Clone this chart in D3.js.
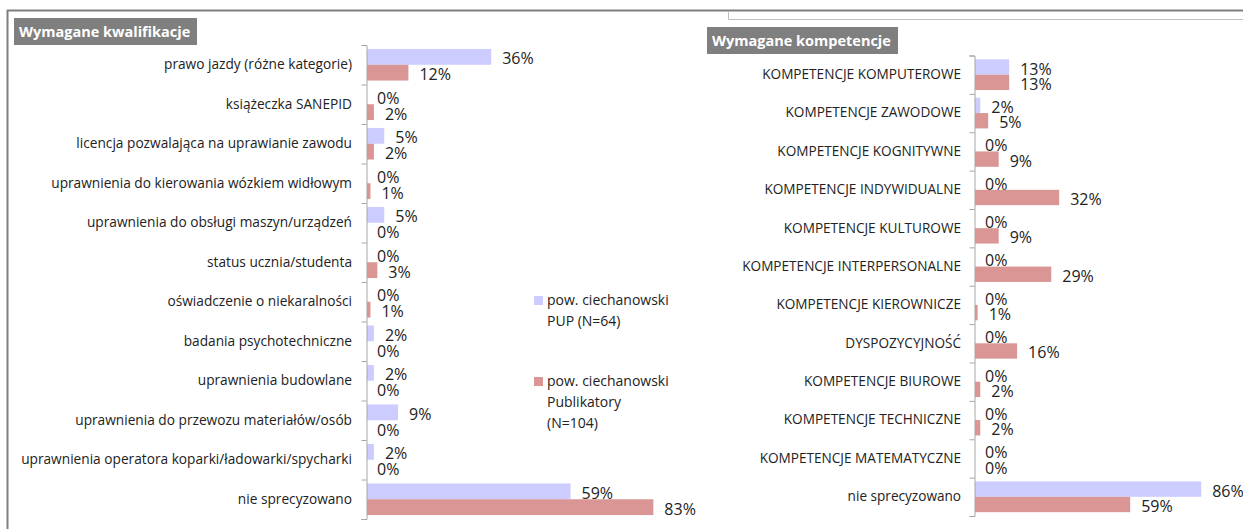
<!DOCTYPE html>
<html>
<head>
<meta charset="utf-8">
<script src="https://cdn.jsdelivr.net/npm/d3@7"></script>
<style>
  body { margin: 0; background: #fff; }
  svg { display: block; font-family: "Open Sans", "Noto Sans", sans-serif; }
  .cat text { fill: #222; }
</style>
</head>
<body>
<svg id="chart" width="1243" height="529"></svg>
<script>
const seriesNames = ["pow. ciechanowski PUP (N=64)", "pow. ciechanowski Publikatory (N=104)"];
const seriesColors = ["#ccccff", "#d99694"];

const qualCategories = [
    "prawo jazdy (różne kategorie)",
    "książeczka SANEPID",
    "licencja pozwalająca na uprawianie zawodu",
    "uprawnienia do kierowania wózkiem widłowym",
    "uprawnienia do obsługi maszyn/urządzeń",
    "status ucznia/studenta",
    "oświadczenie o niekaralności",
    "badania psychotechniczne",
    "uprawnienia budowlane",
    "uprawnienia do przewozu materiałów/osób",
    "uprawnienia operatora koparki/ładowarki/spycharki",
    "nie sprecyzowano"
];
const qualPup = [36, 0, 5, 0, 5, 0, 0, 2, 2, 9, 2, 59];
const qualPubl = [12, 2, 2, 1, 0, 3, 1, 0, 0, 0, 0, 83];

const compCategories = [
    "KOMPETENCJE KOMPUTEROWE",
    "KOMPETENCJE ZAWODOWE",
    "KOMPETENCJE KOGNITYWNE",
    "KOMPETENCJE INDYWIDUALNE",
    "KOMPETENCJE KULTUROWE",
    "KOMPETENCJE INTERPERSONALNE",
    "KOMPETENCJE KIEROWNICZE",
    "DYSPOZYCYJNOŚĆ",
    "KOMPETENCJE BIUROWE",
    "KOMPETENCJE TECHNICZNE",
    "KOMPETENCJE MATEMATYCZNE",
    "nie sprecyzowano"
];
const compPup = [13, 2, 0, 0, 0, 0, 0, 0, 0, 0, 0, 86];
const compPubl = [13, 5, 9, 32, 9, 29, 1, 16, 2, 2, 0, 59];

const svg = d3.select("#chart");

// frame lines
svg.append("line").attr("x1", 7).attr("x2", 1243).attr("y1", 10.5).attr("y2", 10.5)
    .attr("stroke", "#7f7f7f").attr("stroke-width", 2);
svg.append("line").attr("x1", 7.5).attr("x2", 7.5).attr("y1", 10).attr("y2", 529)
    .attr("stroke", "#7f7f7f").attr("stroke-width", 2);
svg.append("path").attr("d", "M728.5,11V19.5H1243")
    .attr("fill", "none").attr("stroke", "#bfbfbf").attr("stroke-width", 1);

function titleBox(x, y, w, h, text) {
    svg.append("rect").attr("x", x).attr("y", y).attr("width", w).attr("height", h)
        .attr("fill", "#7f7f7f");
    svg.append("text").attr("x", x + 5).attr("y", y + h / 2 + 5.5)
        .attr("fill", "#fff").attr("font-weight", "bold").attr("font-size", 14.5)
        .text(text);
}

function barChart(opts) {
    const n = opts.categories.length;
    const y = d3.scaleBand().domain(opts.categories).range([opts.y0, opts.y1])
        .paddingInner(0.2).paddingOuter(0.1);
    const ySub = d3.scaleBand().domain([0, 1]).range([0, y.bandwidth()]);
    const x = d3.scaleLinear().domain([0, 100]).range([opts.x0, opts.x0 + opts.pxPerPct * 100]);
    const idx = d3.scaleLinear().domain([0, n]).range([opts.y0, opts.y1]);

    const g = svg.append("g");

    // bars
    [opts.pup, opts.publ].forEach((vals, s) => {
        g.append("g").selectAll("rect")
            .data(vals)
            .join("rect")
            .attr("x", x(0))
            .attr("y", (d, i) => y(opts.categories[i]) + ySub(s))
            .attr("width", d => x(d) - x(0))
            .attr("height", ySub.bandwidth())
            .attr("fill", seriesColors[s]);

        g.append("g").selectAll("text")
            .data(vals)
            .join("text")
            .attr("x", d => x(d) + (d === 0 ? 10 : 11))
            .attr("y", (d, i) => y(opts.categories[i]) + ySub(s) + ySub.bandwidth() / 2 + 7.5)
            .attr("font-size", 16)
            .attr("fill", "#222")
            .text(d => d + "%");
    });

    // boundary axis with outward ticks
    g.append("g")
        .attr("transform", `translate(${opts.x0 - 0.5},0)`)
        .call(d3.axisLeft(idx).tickValues(d3.range(n + 1)).tickFormat("").tickSize(5).tickSizeOuter(5))
        .call(a => a.selectAll("line,path").attr("stroke", "#a6a6a6"));

    // category labels
    g.append("g").attr("class", "cat")
        .attr("transform", `translate(${opts.x0},0)`)
        .call(d3.axisLeft(y).tickSize(0).tickPadding(opts.labelPad))
        .call(a => a.select(".domain").remove())
        .call(a => a.selectAll("text")
            .attr("font-size", opts.labelSize)
            .attr("font-family", "'Open Sans', 'Noto Sans', sans-serif"));
}

titleBox(14, 18, 183, 27, "Wymagane kwalifikacje");
titleBox(707, 27, 191, 27, "Wymagane kompetencje");

barChart({
    categories: qualCategories, pup: qualPup, publ: qualPubl,
    x0: 367, y0: 45, y1: 519, pxPerPct: 3.45, labelPad: 15, labelSize: 13.7
});

barChart({
    categories: compCategories, pup: compPup, publ: compPubl,
    x0: 975, y0: 55.5, y1: 516, pxPerPct: 2.63, labelPad: 14, labelSize: 13.6
});

// legend
const legendItems = [
    { lines: ["pow. ciechanowski", "PUP (N=64)"], y: 296 },
    { lines: ["pow. ciechanowski", "Publikatory", "(N=104)"], y: 377 }
];
const legend = svg.append("g");
legendItems.forEach((item, i) => {
    legend.append("rect").attr("x", 534).attr("y", item.y).attr("width", 9).attr("height", 9)
        .attr("fill", seriesColors[i]);
    const t = legend.append("text").attr("x", 547).attr("y", item.y + 9)
        .attr("font-size", 14).attr("fill", "#222");
    item.lines.forEach((l, j) => {
        t.append("tspan").attr("x", 547).attr("dy", j === 0 ? 0 : 21).text(l);
    });
});
</script>
</body>
</html>
